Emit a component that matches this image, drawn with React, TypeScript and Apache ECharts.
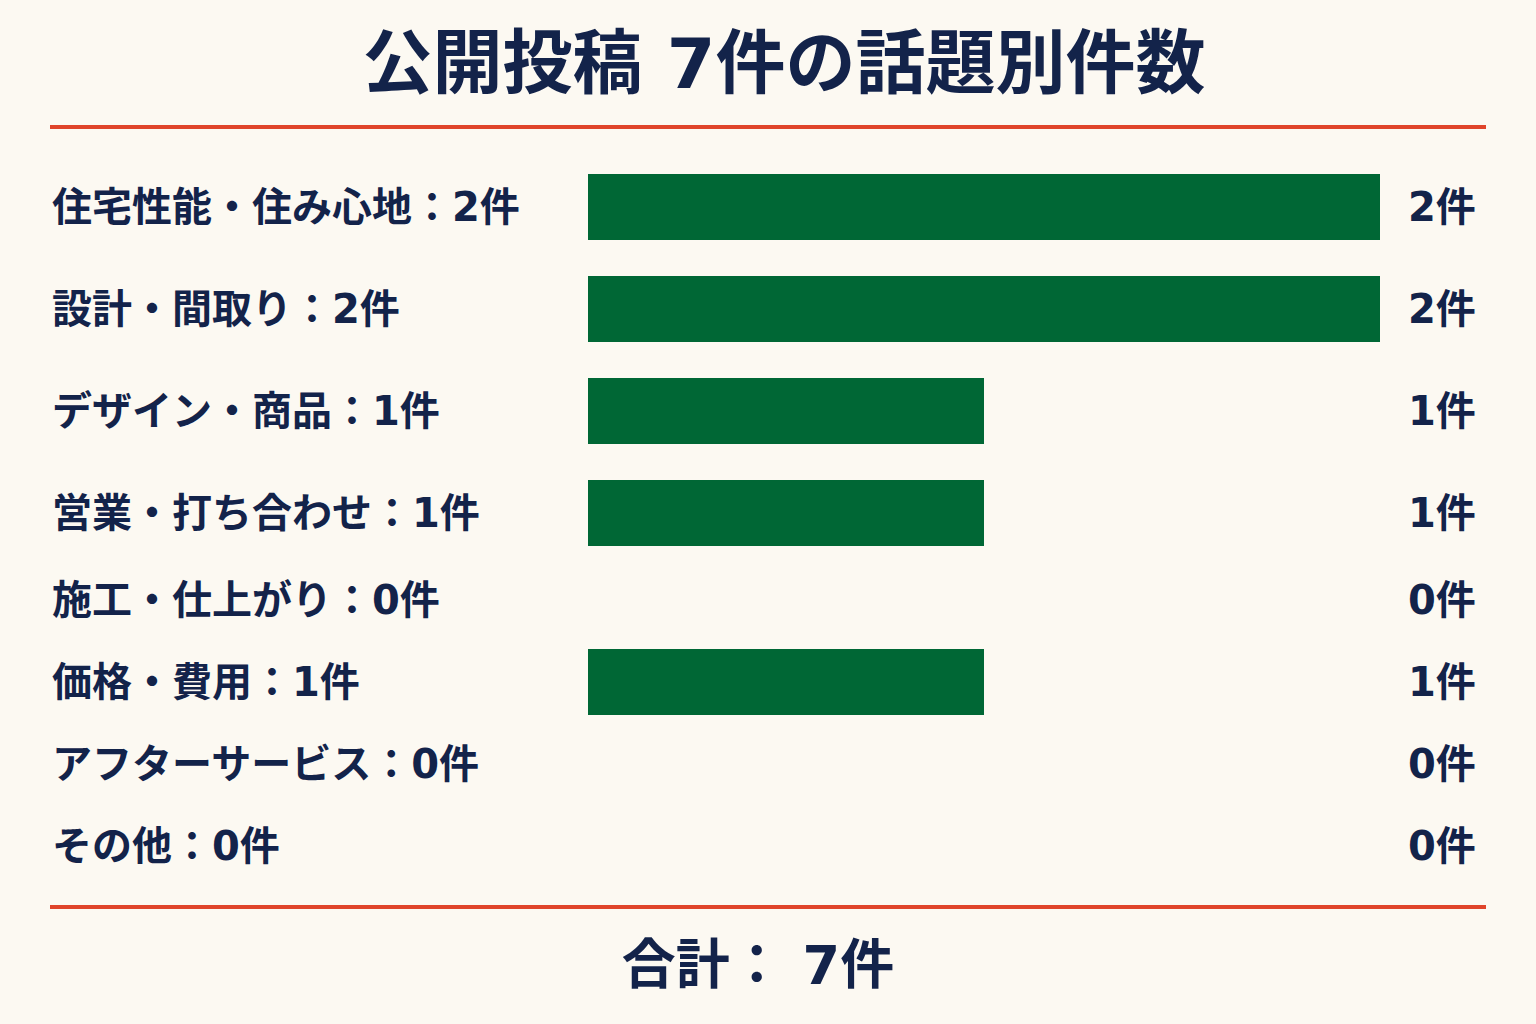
import React, { useEffect, useRef } from "react";
import * as echarts from "echarts";

const titleText = "公開投稿 7件の話題別件数";
const categories = [
  "住宅性能・住み心地",
  "設計・間取り",
  "デザイン・商品",
  "営業・打ち合わせ",
  "施工・仕上がり",
  "価格・費用",
  "アフターサービス",
  "その他",
];
const counts = [2, 2, 1, 1, 0, 1, 0, 0];
const unit = "件";

const FONT = "'DejaVu Sans', 'Noto Sans CJK JP', sans-serif";
const NAVY = "#13234a";
const GREEN = "#006735";
const RED = "#e0452b";
const BG = "#fcf9f2";

export default function App() {
  const ref = useRef<HTMLDivElement>(null);
  useEffect(() => {
    if (!ref.current) return;
    const chart = echarts.init(ref.current, null, { renderer: "svg" });
    const total = counts.reduce((a, b) => a + b, 0);
    const groups = [
      { idx: [0, 1, 2, 3], top: 156, height: 408 },
      { idx: [4, 5, 6, 7], top: 559, height: 328 },
    ];
    const grid: any[] = [];
    const xAxis: any[] = [];
    const yAxis: any[] = [];
    const series: any[] = [];
    groups.forEach((g, gi) => {
      const cats = g.idx.map((i) => categories[i]);
      const vals = g.idx.map((i) => counts[i]);
      grid.push({ left: 588, right: 156, top: g.top, height: g.height });
      xAxis.push({
        gridIndex: gi,
        type: "value",
        min: 0,
        max: 2,
        show: false,
      });
      const common = {
        gridIndex: gi,
        type: "category",
        data: cats,
        inverse: true,
        axisLine: { show: false },
        axisTick: { show: false },
        splitLine: { show: false },
      };
      yAxis.push({
        ...common,
        position: "left",
        axisLabel: {
          align: "left",
          margin: 536,
          color: NAVY,
          fontFamily: FONT,
          fontWeight: "bold",
          fontSize: 40,
          padding: [0, 0, 6, 0],
          formatter: (_: string, i: number) => `${cats[i]}：${vals[i]}${unit}`,
        },
      });
      yAxis.push({
        ...common,
        position: "right",
        axisLabel: {
          align: "left",
          margin: 28,
          color: NAVY,
          fontFamily: FONT,
          fontWeight: "bold",
          fontSize: 40,
          padding: [0, 0, 6, 0],
          formatter: (_: string, i: number) => `${vals[i]}${unit}`,
        },
      });
      series.push({
        type: "bar",
        xAxisIndex: gi,
        yAxisIndex: gi * 2,
        data: vals,
        barWidth: 66,
        itemStyle: { color: GREEN },
        silent: true,
      });
    });
    chart.setOption({
      animation: false,
      backgroundColor: BG,
      grid,
      xAxis,
      yAxis,
      series,
      graphic: [
        {
          type: "text",
          x: 784,
          y: 64,
          style: {
            text: titleText,
            fill: NAVY,
            font: `bold 70px ${FONT}`,
            textAlign: "center",
            textVerticalAlign: "middle",
          },
        },
        {
          type: "line",
          shape: { x1: 50, y1: 127, x2: 1486, y2: 127 },
          style: { stroke: RED, lineWidth: 4 },
        },
        {
          type: "line",
          shape: { x1: 50, y1: 907, x2: 1486, y2: 907 },
          style: { stroke: RED, lineWidth: 4 },
        },
        {
          type: "text",
          x: 758,
          y: 965,
          style: {
            text: `合計： ${total}${unit}`,
            fill: NAVY,
            font: `bold 54px ${FONT}`,
            textAlign: "center",
            textVerticalAlign: "middle",
          },
        },
      ],
    });
    return () => chart.dispose();
  }, []);
  return (
    <div
      ref={ref}
      style={{ position: "fixed", left: 0, top: 0, width: 1536, height: 1024 }}
    />
  );
}
